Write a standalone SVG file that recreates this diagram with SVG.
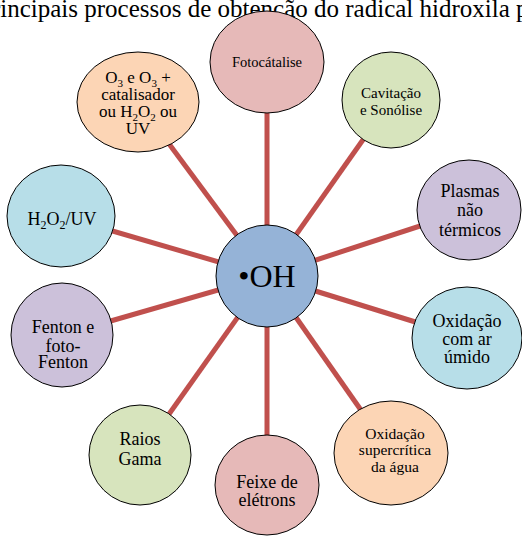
<svg xmlns="http://www.w3.org/2000/svg" width="522" height="536" viewBox="0 0 522 536" font-family="'Liberation Serif', 'DejaVu Serif', serif">
<style>
text{font-family:'Liberation Serif','DejaVu Serif',serif;fill:#000;text-anchor:middle}
.n{stroke:#000;stroke-width:1}
.red{fill:#E6B9B8}.grn{fill:#D7E4BD}.pur{fill:#CCC1DA}.aqu{fill:#B7DEE8}.org{fill:#FCD5B5}.blu{fill:#95B3D7}
.c line{stroke:#C0504D;stroke-width:5}
</style>
<rect width="522" height="536" fill="#fff"/>
<text x="-22" y="17" font-size="25" style="text-anchor:start">Principais processos de obtenção do radical hidroxila p</text>
<g class="c" id="connectors">
<line x1="267" y1="276" x2="267" y2="62"/>
<line x1="267" y1="276" x2="391" y2="100"/>
<line x1="267" y1="276" x2="469" y2="210"/>
<line x1="267" y1="276" x2="467" y2="338"/>
<line x1="267" y1="276" x2="391" y2="453"/>
<line x1="267" y1="276" x2="267" y2="485"/>
<line x1="267" y1="276" x2="140" y2="455"/>
<line x1="267" y1="276" x2="62" y2="335"/>
<line x1="267" y1="276" x2="61" y2="216"/>
<line x1="267" y1="276" x2="138" y2="102"/>
</g>
<g id="fotocatalise"><ellipse class="n red" cx="267" cy="62" rx="57" ry="51"/><text x="267" y="67" font-size="14.5">Fotocátalise</text></g>
<g id="cavitacao"><ellipse class="n grn" cx="391" cy="100" rx="49" ry="48"/><text x="391" y="98" font-size="15">Cavitação</text><text x="391" y="115" font-size="15">e Sonólise</text></g>
<g id="plasmas"><ellipse class="n pur" cx="469" cy="210" rx="52" ry="50"/><text x="470" y="197" font-size="18">Plasmas</text><text x="470" y="216" font-size="18">não</text><text x="470" y="236" font-size="18">térmicos</text></g>
<g id="oxidacao-ar"><ellipse class="n aqu" cx="467" cy="338" rx="55" ry="51"/><text x="467" y="327" font-size="18">Oxidação</text><text x="467" y="345" font-size="18">com ar</text><text x="467" y="363" font-size="18">úmido</text></g>
<g id="supercritica"><ellipse class="n org" cx="391" cy="453" rx="57" ry="52"/><text x="395" y="439" font-size="15.5">Oxidação</text><text x="395" y="455" font-size="15.5">supercrítica</text><text x="395" y="472" font-size="15.5">da água</text></g>
<g id="feixe"><ellipse class="n red" cx="267" cy="485" rx="52" ry="50"/><text x="267" y="488" font-size="18">Feixe de</text><text x="267" y="506" font-size="18">elétrons</text></g>
<g id="raios"><ellipse class="n grn" cx="140" cy="455" rx="51" ry="50"/><text x="140" y="445" font-size="18">Raios</text><text x="140" y="465" font-size="18">Gama</text></g>
<g id="fenton"><ellipse class="n pur" cx="62" cy="335" rx="51" ry="52"/><text x="63" y="333" font-size="18">Fenton e</text><text x="63" y="352" font-size="18">foto-</text><text x="63" y="368" font-size="18">Fenton</text></g>
<g id="h2o2uv"><ellipse class="n aqu" cx="61" cy="216" rx="54" ry="51"/><text x="62" y="225" font-size="18">H<tspan font-size="12" dy="4">2</tspan><tspan dy="-4">O</tspan><tspan font-size="12" dy="4">2</tspan><tspan dy="-4">/UV</tspan></text></g>
<g id="ozonio"><ellipse class="n org" cx="138" cy="102" rx="61" ry="50"/><text x="138" y="83" font-size="17">O<tspan font-size="11" dy="4">3</tspan><tspan dy="-4"> e O</tspan><tspan font-size="11" dy="4">3</tspan><tspan dy="-4"> +</tspan></text><text x="138" y="100" font-size="17">catalisador</text><text x="138" y="117" font-size="17">ou H<tspan font-size="11" dy="4">2</tspan><tspan dy="-4">O</tspan><tspan font-size="11" dy="4">2</tspan><tspan dy="-4"> ou</tspan></text><text x="138" y="134" font-size="17">UV</text></g>
<g id="oh"><circle class="n blu" cx="267" cy="276" r="51"/><text x="267" y="287" font-size="32">•OH</text></g>
</svg>
